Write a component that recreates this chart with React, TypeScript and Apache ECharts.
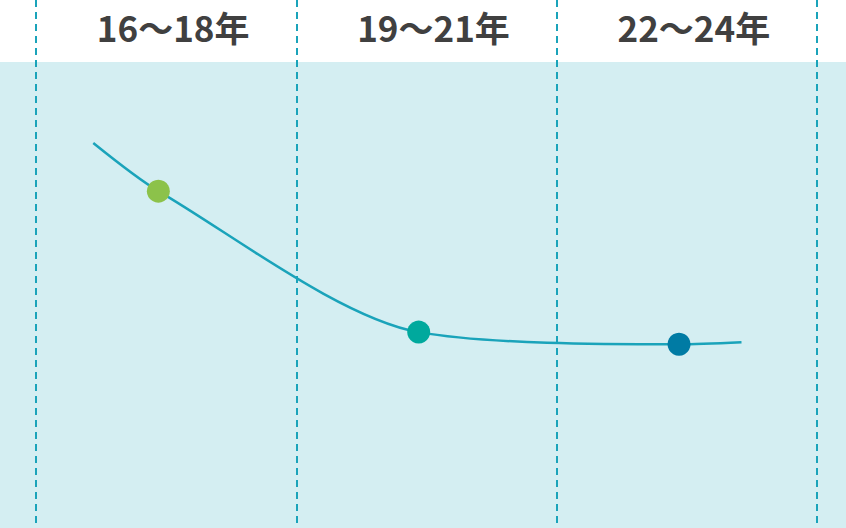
import { useEffect, useRef } from 'react'
import * as echarts from 'echarts'

// ---------- data ----------
const periodLabels = ['16〜18年', '19〜21年', '22〜24年']
// curve path (x in column units, 0..3), incl. the short lead-in / lead-out
const curveX = [0.22, 0.47, 1.47, 2.47, 2.71]
const curveY = [72.9, 63.8, 37.1, 34.8, 35.2]
// highlighted points, one per period
const pointX = [0.47, 1.47, 2.47]
const pointY = [63.8, 37.1, 34.8]
const pointColors = ['#8cc24a', '#00a99d', '#007ba4']

const BAND_COLOR = '#d4eef2'
const LINE_COLOR = '#1aa3ba'
const TEXT_COLOR = '#404040'

export default function App() {
  const ref = useRef<HTMLDivElement>(null)

  useEffect(() => {
    if (!ref.current) return
    const chart = echarts.init(ref.current, undefined, { renderer: 'svg' })

    chart.setOption({
      animation: false,
      backgroundColor: '#ffffff',
      graphic: [
        {
          type: 'rect',
          z: -10,
          silent: true,
          shape: { x: 0, y: 62, width: 846, height: 466 },
          style: { fill: BAND_COLOR },
        },
      ],
      grid: { left: 36, right: 29, top: 0, bottom: 0, containLabel: false },
      xAxis: [
        {
          type: 'value',
          min: 0,
          max: 3,
          interval: 1,
          axisLine: { show: false },
          axisTick: { show: false },
          axisLabel: { show: false },
          splitLine: {
            show: true,
            lineStyle: { color: LINE_COLOR, width: 2, type: [7, 5] },
          },
          z: 1,
        },
        {
          type: 'category',
          position: 'top',
          data: periodLabels,
          axisLine: { show: false },
          axisTick: { show: false },
          splitLine: { show: false },
          axisLabel: {
            inside: true,
            margin: 26,
            verticalAlign: 'middle',
            color: TEXT_COLOR,
            fontSize: 35,
            fontWeight: 'bold',
            fontFamily: '"Noto Sans CJK JP", "Noto Sans", sans-serif',
            padding: [0, 0, 0, 14],
          },
        },
      ],
      yAxis: {
        type: 'value',
        min: 0,
        max: 100,
        show: false,
        splitLine: { show: false },
      },
      series: [
        {
          type: 'line',
          xAxisIndex: 0,
          data: curveX.map((x, i) => [x, curveY[i]]),
          smooth: 0.28,
          showSymbol: false,
          symbol: 'none',
          lineStyle: { color: LINE_COLOR, width: 2.5 },
          z: 3,
        },
        {
          type: 'scatter',
          xAxisIndex: 0,
          data: pointX.map((x, i) => ({
            value: [x, pointY[i]],
            itemStyle: { color: pointColors[i], opacity: 1 },
          })),
          symbolSize: 23,
          z: 4,
        },
      ],
    })

    return () => chart.dispose()
  }, [])

  return (
    <div
      ref={ref}
      style={{ position: 'fixed', left: 0, top: 0, width: 846, height: 528 }}
    />
  )
}
